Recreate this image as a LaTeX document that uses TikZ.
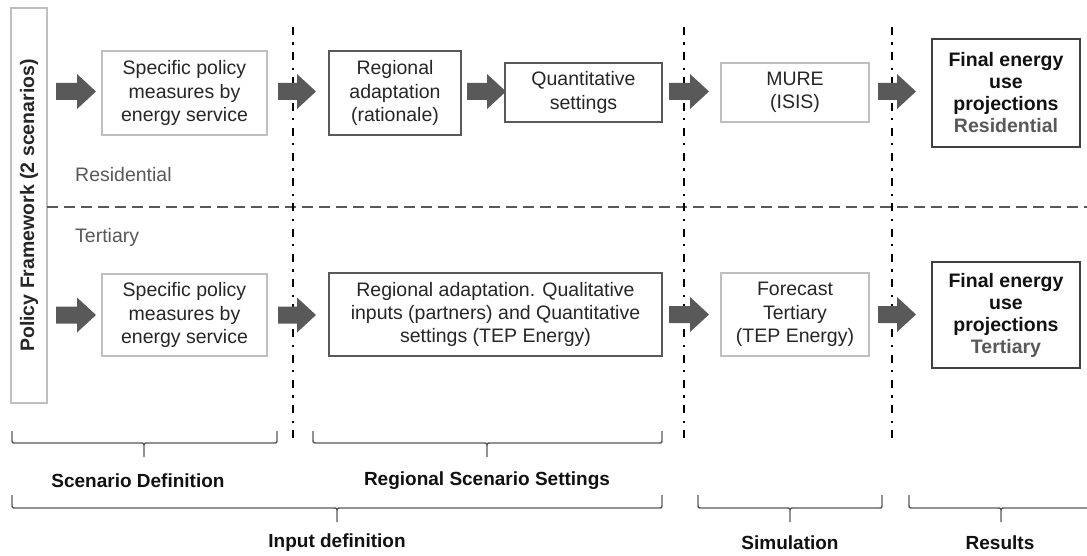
\documentclass[tikz,border=0pt]{standalone}
\usepackage{fontspec}
\setmainfont{Liberation Sans}
\usetikzlibrary{calc}
\definecolor{boxlight}{HTML}{BFBFBF}
\definecolor{boxdark}{HTML}{595959}
\definecolor{boxfinal}{HTML}{404040}
\definecolor{arrowgray}{HTML}{595959}
\definecolor{textdark}{HTML}{262626}
\definecolor{textblack}{HTML}{111111}
\definecolor{labelgray}{HTML}{595959}
\newcommand\blockarrow[2]{%
  \fill[arrowgray] let \p1=(#1), \p2=(#2) in
  (\x1,\y1+8.5pt) -- (\x2-19pt,\y1+8.5pt) -- (\x2-19pt,\y1+17.5pt) -- (\x2,\y1)
  -- (\x2-19pt,\y1-17.5pt) -- (\x2-19pt,\y1-8.5pt) -- (\x1,\y1-8.5pt) -- cycle;}
\newcommand\mybrace[6]{% x1 x2 xm ytop yh ytip
  \draw[bracestyle] (#1,#4) -- (#1,#5-4) .. controls (#1,#5) .. (#1+4,#5)
    -- (#3-4,#5) .. controls (#3,#5) .. (#3,#5+4) -- (#3,#6)
    (#3,#5+4) .. controls (#3,#5) .. (#3+4,#5)
    -- (#2-4,#5) .. controls (#2,#5) .. (#2,#5-4) -- (#2,#4);}
\begin{document}
\begin{tikzpicture}[x=1pt,y=-1pt,
  every node/.style={font=\fontsize{19.5}{23.2}\selectfont, inner sep=0pt, text=textdark},
  lbox/.style={draw=boxlight, line width=2pt, align=center},
  dbox/.style={draw=boxdark, line width=2pt, align=center},
  finalbox/.style={draw=boxfinal, line width=2pt, align=center,
    font=\fontsize{19.5}{22}\selectfont\bfseries, text=textblack},
  lab/.style={font=\fontsize{19}{22.5}\selectfont\bfseries, text=textblack},
  rowlab/.style={anchor=west, text=labelgray},
  vline/.style={black, line width=2.4pt, dash pattern=on 8pt off 7.5pt on 2.2pt off 7.5pt},
  hline/.style={labelgray, line width=2pt, dash pattern=on 11pt off 6pt},
  bracestyle/.style={boxdark, line width=1.4pt}]
\useasboundingbox (0,0) rectangle (1087,556);
\clip (0,0) rectangle (1087,556);
\fill[white] (0,0) rectangle (1087,556);

% policy framework
\node[lbox, minimum width=36, minimum height=395] (pf) at (29,205.5) {};
\node[rotate=90, font=\fontsize{19.5}{22.5}\selectfont\bfseries, text=textdark] (pftext) at (pf.center) {Policy Framework (2 scenarios)};

% separators
\draw[hline] (47,207) -- (1087,207);
\coordinate (v1t) at (293,27);  \coordinate (v1b) at (293,445);
\coordinate (v2t) at (684,27);  \coordinate (v2b) at (684,445);
\coordinate (v3t) at (892,27);  \coordinate (v3b) at (892,445);
\draw[vline] (v1t) -- (v1b);
\draw[vline] (v2t) -- (v2b);
\draw[vline] (v3t) -- (v3b);

\node[rowlab] (lres) at (75,175) {Residential};
\node[rowlab] (lter) at (75,237) {Tertiary};

% top row
\node[lbox, minimum width=165, minimum height=84] (s1) at (184.5,93) {Specific policy\\measures by\\energy service};
\node[dbox, minimum width=132, minimum height=84] (r1) at (395,93) {Regional\\adaptation\\(rationale)};
\node[dbox, minimum width=157, minimum height=59] (q1) at (583.5,92.5) {Quantitative\\settings};
\node[lbox, minimum width=148, minimum height=59] (m1) at (795,92.5) {MURE\\(ISIS)};
\node[finalbox, minimum width=148, minimum height=108] (f1) at (1006,93) {Final energy\\use\\projections\\{\color{labelgray}Residential}};

% bottom row
\node[lbox, minimum width=165, minimum height=82] (s2) at (184.5,315) {Specific policy\\measures by\\energy service};
\node[dbox, minimum width=333, minimum height=83] (r2) at (495.5,314.5) {Regional adaptation. Qualitative\\inputs (partners) and Quantitative\\settings (TEP Energy)};
\node[lbox, minimum width=148, minimum height=83] (m2) at (795,314.5) {Forecast\\Tertiary\\(TEP Energy)};
\node[finalbox, minimum width=148, minimum height=106] (f2) at (1006,315) {Final energy\\use\\projections\\{\color{labelgray}Tertiary}};

% block arrows
\blockarrow{$(pf.east |- s1.west)+(8,-1.5)$}{$(s1.west)+(-5,-1.5)$}
\blockarrow{$(s1.east)+(10,-1.5)$}{$(r1.west)+(-12,-1.5)$}
\blockarrow{$(r1.east)+(5,-1.5)$}{$(q1.west)+(2,-1)$}
\blockarrow{$(q1.east)+(6,-1)$}{$(m1.west)+(-11,-1)$}
\blockarrow{$(m1.east)+(8,-1)$}{$(f1.west)+(-15,-1.5)$}
\blockarrow{$(pf.east |- s2.west)+(8,0)$}{$(s2.west)+(-5,0)$}
\blockarrow{$(s2.east)+(10,0)$}{$(r2.west)+(-12,0)$}
\blockarrow{$(r2.east)+(6,0)$}{$(m2.west)+(-11,0)$}
\blockarrow{$(m2.east)+(8,0)$}{$(f2.west)+(-15,0)$}

% braces
\mybrace{12}{277}{144}{431}{443}{457}
\mybrace{313}{662}{487}{431}{443}{457}
\mybrace{12}{662}{337}{495}{508}{522}
\mybrace{698}{882}{790}{495}{508}{522}
\mybrace{909}{1093}{1001}{495}{508}{522}

\node[lab] (lsd) at (138,481) {Scenario Definition};
\node[lab] (lrs) at (487,481) {Regional Scenario Settings};
\node[lab] (lid) at (337,543) {Input definition};
\node[lab] (lsim) at (790,543) {Simulation};
\node[lab] (lresu) at (1000,543) {Results};
\end{tikzpicture}
\end{document}
